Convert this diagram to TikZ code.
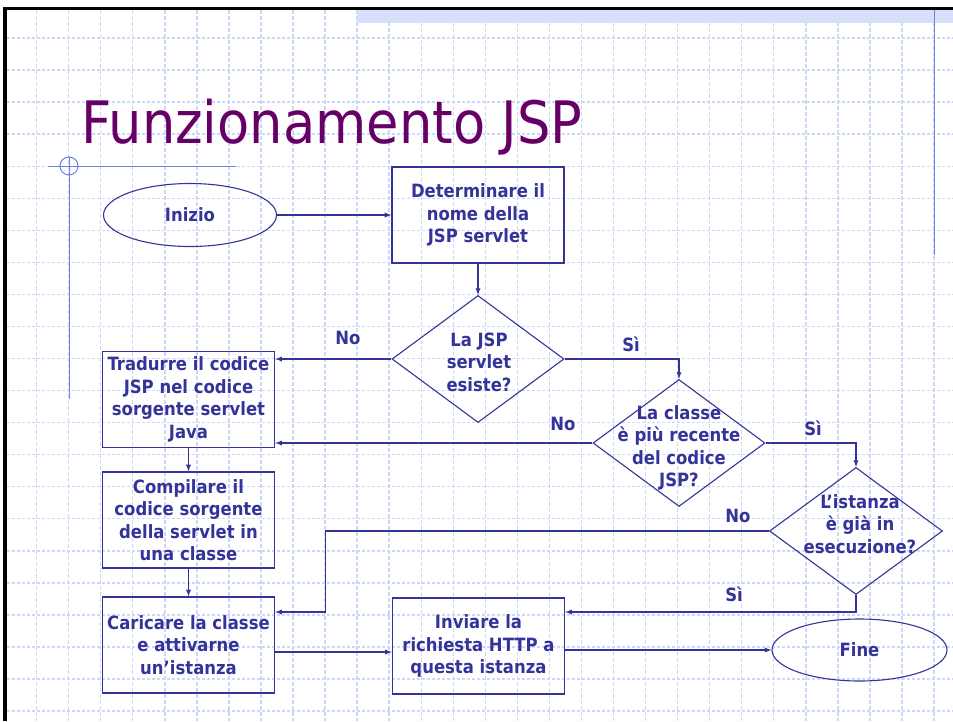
\documentclass[tikz,border=0pt]{standalone}
\usepackage{fontspec}
\setmainfont{DejaVu Sans Condensed}[BoldFont={DejaVu Sans Condensed Bold}]
\usetikzlibrary{arrows,positioning,shapes.geometric}
\definecolor{navy}{RGB}{51,51,153}
\definecolor{plum}{RGB}{102,0,102}
\definecolor{gridblue}{RGB}{205,215,250}
\definecolor{deco}{RGB}{110,130,230}
\definecolor{band}{RGB}{215,224,250}

\begin{document}
\begin{tikzpicture}[x=1pt,y=-1pt,
	every node/.style={text=navy,font=\bfseries\fontsize{18.3}{22.5}\selectfont,align=center},
	box/.style={draw=navy,line width=1.3pt,rectangle,minimum width=172pt,minimum height=96pt,inner sep=0pt},
	term/.style={draw=navy,line width=1.1pt,ellipse,minimum width=173pt,minimum height=63pt,inner sep=0pt},
	dia/.style={draw=navy,line width=1.1pt,diamond,minimum width=172pt,minimum height=127pt,inner sep=0pt},
	flow/.style={draw=navy,line width=1.3pt,-latex}]
	\useasboundingbox (0,0) rectangle (953,721);

	% slide background
	\foreach \i in {0,...,28}
		\draw[gridblue,line width=1.4pt,dash pattern=on 3.5pt off 2.5pt] ({36.6+32.05*\i},10) -- ({36.6+32.05*\i},721);
	\foreach \j in {0,...,21}
		\draw[gridblue,line width=1.4pt,dash pattern=on 3pt off 2pt] (7,{38+32.05*\j}) -- (953,{38+32.05*\j});
	\fill[band] (357,10) rectangle (953,23);
	\fill[black] (3,7) rectangle (7,721);
	\fill[black] (3,7) rectangle (953,10);
	\draw[deco,line width=1pt] (48,166) -- (236,166);
	\draw[deco,line width=1pt] (69,157) -- (69,399);
	\draw[deco,line width=1pt] (69,166) circle (9);
	\draw[deco,line width=1pt] (934,10) -- (934,255);

	\node[font=\fontsize{58.5}{58.5}\selectfont,text=plum,anchor=base west] (title) at (78,143) {Funzionamento JSP};

	% flowchart
	\node[term] (inizio) at (190,215) {Inizio};
	\node[box] (det) at (478,215) {Determinare il\\nome della\\JSP servlet};
	\node[dia] (d1) at (478,359) {};
	\node (d1t) at (479,362) {La JSP\\servlet\\esiste?};
	\node[dia] (d2) at (679,443) {};
	\node (d2t) at (679,448) {La classe\\è più recente\\del codice\\JSP?};
	\node[dia,minimum width=173pt] (d3) at (856,531) {};
	\node (d3t) at (860,524) {L’istanza\\è già in\\esecuzione?};
	\node[box] (trad) at (188.5,399.5) {Tradurre il codice\\JSP nel codice\\sorgente servlet\\Java};
	\node[box] (comp) at (188.5,520) {Compilare il\\codice sorgente\\della servlet in\\una classe};
	\node[box] (car) at (188.5,645) {Caricare la classe\\e attivarne\\un’istanza};
	\node[box] (inv) at (478.5,646) {Inviare la\\richiesta HTTP a\\questa istanza};
	\node[term,minimum width=175pt,minimum height=62pt] (fine) at (859.5,650) {Fine};

	\node (no1) at (348,338) {No};
	\node (si1) at (631,344) {Sì};
	\node (no2) at (563,424) {No};
	\node (si2) at (813,428) {Sì};
	\node (no3) at (738,516) {No};
	\node (si3) at (734,594) {Sì};

	\draw[flow] (inizio) -- (det);
	\draw[flow] (det) -- (d1);
	\draw[flow] (d1.west) -- (d1.west -| trad.east);
	\draw[flow] (d1.east) -| (d2.north);
	\draw[flow] (d2.west) -- (d2.west -| trad.east);
	\draw[flow] (d2.east) -| (d3.north);
	\draw[flow] (d3.west) -| ([xshift=50pt,yshift=33pt]car.east) -- ([yshift=33pt]car.east);
	\draw[flow] (d3.south) |- ([yshift=34pt]inv.east);
	\draw[flow] (trad) -- (comp);
	\draw[flow] (comp) -- (car);
	\draw[flow] ([yshift=-7pt]car.east) -- ([yshift=-7pt]car.east -| inv.west);
	\draw[flow] (inv.east |- fine.west) -- (fine.west);
\end{tikzpicture}
\end{document}
